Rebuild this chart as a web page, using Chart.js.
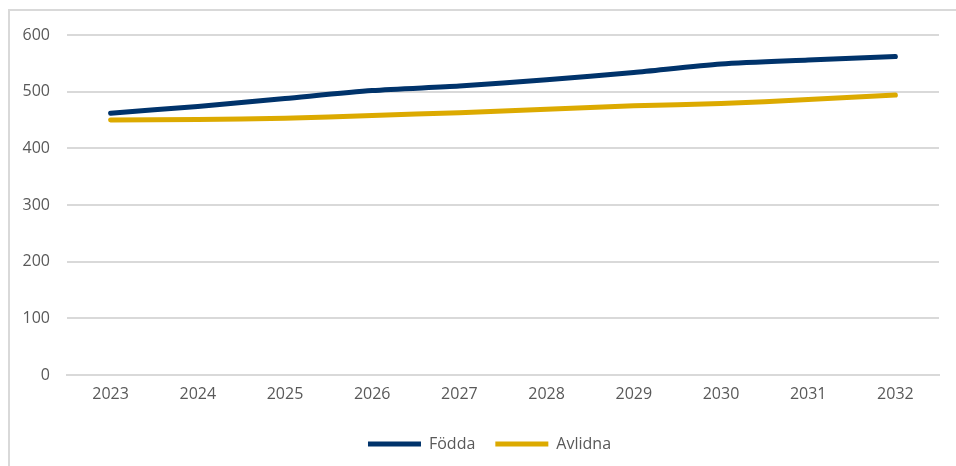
<!DOCTYPE html>
<html>
<head>
<meta charset="utf-8">
<script src="https://cdn.jsdelivr.net/npm/chart.js@4/dist/chart.umd.min.js"></script>
<style>
  html, body { margin: 0; padding: 0; background: #ffffff; overflow: hidden; }
  #frame { position: absolute; left: 8px; top: 9px; width: 960px; height: 470px;
           border-top: 2px solid #d9d9d9; border-left: 2px solid #d9d9d9; box-sizing: border-box; }
  #wrap { position: absolute; left: 0; top: 0; width: 979px; height: 466px; }
</style>
</head>
<body>
<div id="frame"></div>
<div id="wrap"><canvas id="c" width="979" height="466"></canvas></div>
<script>
const years = ['2023','2024','2025','2026','2027','2028','2029','2030','2031','2032'];
const fodda = [462, 474, 488, 502, 510, 521, 534, 549, 556, 562];
const avlidna = [450, 451, 453, 458, 463, 469, 475, 479, 486, 494];
const yTicks = [0, 100, 200, 300, 400, 500, 600];

const FONT = "'Open Sans', sans-serif";
const TXT = '#595959';
const GRID = '#d9d9d9';

new Chart(document.getElementById('c'), {
  type: 'line',
  data: {
    labels: years,
    datasets: [
      { label: 'Födda', data: fodda, borderColor: '#00336b', backgroundColor: '#00336b',
        borderWidth: 5, borderCapStyle: 'round', borderJoinStyle: 'round',
        pointRadius: 0, tension: 0.25 },
      { label: 'Avlidna', data: avlidna, borderColor: '#dcaa00', backgroundColor: '#dcaa00',
        borderWidth: 5, borderCapStyle: 'round', borderJoinStyle: 'round',
        pointRadius: 0, tension: 0.25 }
    ]
  },
  options: {
    responsive: false,
    animation: false,
    layout: { padding: { top: 35, right: 0, left: 0, bottom: 4 } },
    plugins: {
      tooltip: { enabled: false },
      legend: {
        position: 'bottom',
        labels: {
          font: { family: FONT, size: 16 },
          color: TXT,
          usePointStyle: true,
          pointStyle: 'line',
          pointStyleWidth: 53,
          boxHeight: 16,
          padding: 20
        }
      }
    },
    scales: {
      x: {
        offset: true,
        grid: { display: false, drawTicks: false },
        border: { display: true, color: GRID, width: 2 },
        ticks: { font: { family: FONT, size: 16 }, color: TXT, padding: 10, maxRotation: 0 },
        afterFit: s => { s.height = 41; }
      },
      y: {
        min: 0, max: 600,
        afterBuildTicks: s => { s.ticks = yTicks.map(v => ({ value: v })); },
        grid: { color: GRID, lineWidth: 2, drawTicks: false },
        border: { display: false },
        ticks: { font: { family: FONT, size: 16 }, color: TXT, padding: 17 },
        afterFit: s => { s.width = 67; }
      },
      yRight: {
        type: 'linear',
        position: 'right',
        display: true,
        grid: { display: false, drawTicks: false },
        border: { display: false },
        ticks: { display: false },
        afterFit: s => { s.width = 40; }
      }
    }
  }
});
</script>
</body>
</html>
